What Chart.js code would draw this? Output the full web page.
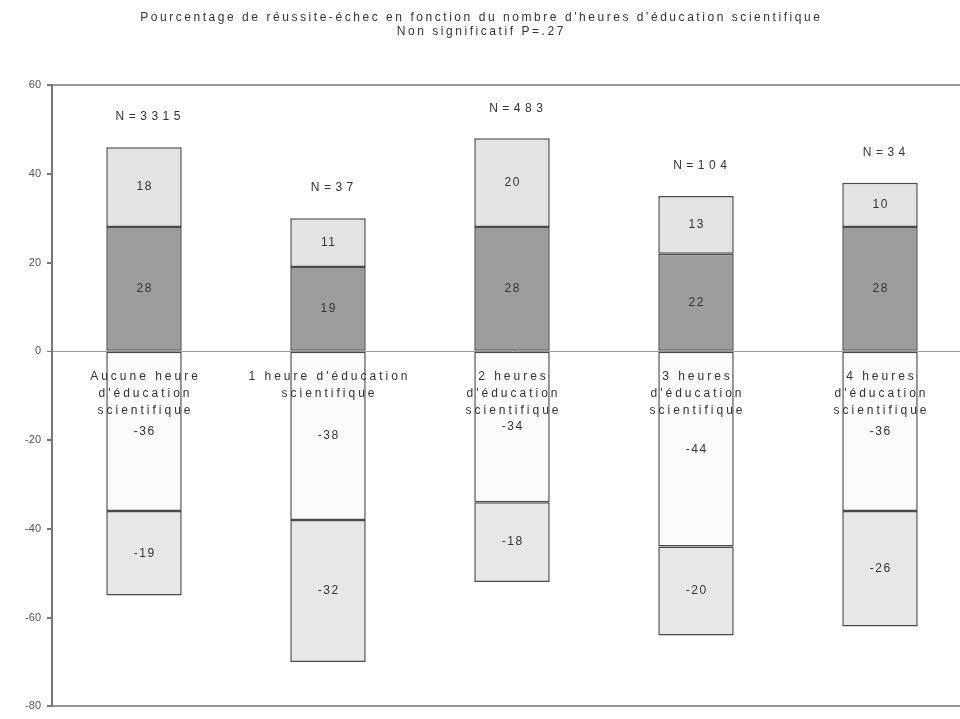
<!DOCTYPE html>
<html>
<head>
<meta charset="utf-8">
<script src="https://cdn.jsdelivr.net/npm/chart.js@4"></script>
<style>
  html, body { margin: 0; padding: 0; background: #fff; overflow: hidden; }
  #wrap { width: 980px; height: 719px; }
</style>
</head>
<body>
<div id="wrap"><canvas id="myChart" width="980" height="719"></canvas></div>
<script>
const titleLines = [
  "Pourcentage de réussite-échec en fonction du nombre d'heures d'éducation scientifique",
  "Non significatif P=.27"
];
const categories = [
  ["Aucune heure", "d'éducation", "scientifique"],
  ["1 heure d'éducation", "scientifique"],
  ["2 heures", "d'éducation", "scientifique"],
  ["3 heures", "d'éducation", "scientifique"],
  ["4 heures", "d'éducation", "scientifique"]
];
const nLabels = ["N=3315", "N=37", "N=483", "N=104", "N=34"];
const posDark = [28, 19, 28, 22, 28];
const posLight = [18, 11, 20, 13, 10];
const negWhite = [-36, -38, -34, -44, -36];
const negLight = [-19, -32, -18, -20, -26];
const yTicks = [60, 40, 20, 0, -20, -40, -60, -80];

const ctx = document.getElementById('myChart').getContext('2d');
const FAMILY = '"Liberation Sans", Arial, sans-serif';
const TXT = '#333';

function spacedText(c, str, x, y, spacing) {
  c.letterSpacing = spacing + 'px';
  // letterSpacing adds trailing space, shift half of it back
  c.fillText(str, x + spacing / 2, y);
  c.letterSpacing = '0px';
}

const labelsPlugin = {
  id: 'labelsPlugin',
  afterDatasetsDraw(chart) {
    const c = chart.ctx;
    const x = chart.scales.x;
    const y = chart.scales.y;
    c.save();
    c.fillStyle = TXT;
    c.textAlign = 'center';
    c.textBaseline = 'middle';

    // title
    c.font = '12px ' + FAMILY;
    spacedText(c, titleLines[0], 480, 18, 2.55);
    spacedText(c, titleLines[1], 480, 32, 2.55);

    // segment values
    c.font = '12px ' + FAMILY;
    chart.data.datasets.forEach((ds, di) => {
      const meta = chart.getDatasetMeta(di);
      meta.data.forEach((bar, i) => {
        const mid = (bar.y + bar.base) / 2;
        spacedText(c, String(ds.data[i]), bar.x, mid, 1.5);
      });
    });

    // category labels under zero line
    const zero = y.getPixelForValue(0);
    categories.forEach((lines, i) => {
      const cx = x.getPixelForValue(i);
      lines.forEach((ln, k) => {
        spacedText(c, ln, cx, zero + 25 + k * 17, 3);
      });
    });

    // N labels above each stack
    nLabels.forEach((n, i) => {
      const top = y.getPixelForValue(posDark[i] + posLight[i]);
      spacedText(c, n, x.getPixelForValue(i) + 4, top - 30, 4.5);
    });
    c.restore();
  }
};

const barStyle = {
  borderColor: '#4a4a4a',
  borderWidth: 1.5,
  borderSkipped: false,
  barPercentage: 0.41,
  categoryPercentage: 1
};

new Chart(ctx, {
  type: 'bar',
  data: {
    labels: categories.map(l => l.join(' ')),
    datasets: [
      { label: 'dark', data: posDark, backgroundColor: '#9d9d9d', ...barStyle },
      { label: 'light', data: posLight, backgroundColor: '#e3e3e3', ...barStyle },
      { label: 'white', data: negWhite, backgroundColor: '#fbfbfb', ...barStyle },
      { label: 'lightneg', data: negLight, backgroundColor: '#e7e7e7', ...barStyle }
    ]
  },
  options: {
    responsive: false,
    animation: false,
    layout: { padding: { top: 85, bottom: 4, left: 0, right: 8 } },
    plugins: {
      legend: { display: false },
      tooltip: { enabled: false }
    },
    scales: {
      x: {
        stacked: true,
        display: false
      },
      y: {
        stacked: true,
        min: -80,
        max: 60,
        afterFit(scale) { scale.width = 52; },
        afterBuildTicks(scale) { scale.ticks = yTicks.map(v => ({ value: v })); },
        ticks: {
          color: '#555',
          font: { size: 11, family: FAMILY },
          padding: 6
        },
        border: { display: true, color: '#777', width: 2 },
        grid: {
          color: c => (c.tick && (c.tick.value === 0 || c.tick.value === 60 || c.tick.value === -80)) ? '#999' : 'rgba(0,0,0,0)',
          lineWidth: c => (c.tick && c.tick.value === 0) ? 1 : 2,
          tickColor: '#777',
          tickLength: 5,
          drawTicks: true
        }
      }
    }
  },
  plugins: [labelsPlugin]
});
</script>
</body>
</html>
